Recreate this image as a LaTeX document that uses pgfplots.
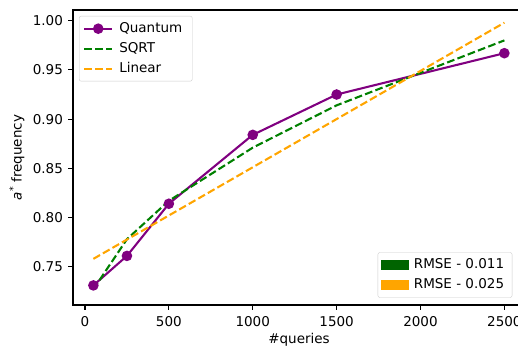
\documentclass[border=0pt]{standalone}
\usepackage{pgfplots}
\pgfplotsset{compat=1.18}
\usepackage{fontspec}
\setmainfont{DejaVu Sans}
\definecolor{qpurple}{HTML}{800080}
\definecolor{sgreen}{HTML}{008000}
\definecolor{dgreen}{HTML}{006400}
\definecolor{lorange}{HTML}{FFA500}
\definecolor{legframe}{HTML}{CCCCCC}
\newcommand{\fs}{\fontsize{13.5}{16}\selectfont}
\begin{document}
\begin{tikzpicture}[x=1pt,y=1pt]
\clip (0,0) rectangle (518,348);
\begin{axis}[
  at={(73pt,43pt)}, anchor=south west,
  scale only axis, width=452pt, height=295pt,
  xmin=-71.5, xmax=2623, ymin=0.7111, ymax=1.0109,
  /pgf/number format/assume math mode=true,
  /pgf/number format/set thousands separator={},
  font=\fs,
  axis line style={line width=1.1pt, black},
  xtick={0,500,1000,1500,2000,2500},
  ytick={0.75,0.80,0.85,0.90,0.95,1.00},
  xtick pos=lower, ytick pos=left,
  tick align=outside, major tick length=4.9pt,
  tick style={line width=1.1pt, black},
  xticklabel style={inner sep=0pt, anchor=north, yshift=-6.5pt, font=\fs},
  yticklabel style={inner sep=0pt, anchor=east, xshift=-5pt, font=\fs,
    /pgf/number format/.cd, fixed, fixed zerofill, precision=2},
  scaled y ticks=false, scaled x ticks=false,
  every axis x label/.style={at={(axis description cs:0.5,0)}, anchor=center, yshift=-35pt},
  every axis y label/.style={at={(axis description cs:0,0.5)}, anchor=center, xshift=-56pt, rotate=90},
  xlabel={\#queries},
  ylabel={\textit{a}\textsuperscript{*} frequency},
  legend image code/.code={\draw[sharp corners, mark repeat=2,mark phase=2,#1] plot coordinates {(0pt,0pt) (14pt,0pt) (28pt,0pt)};},
  legend cell align=left,
  legend style={at={(axis description cs:0,1)}, anchor=north west, xshift=6pt, yshift=-6pt,
    draw=legframe, rounded corners=2pt, fill=white, font=\fs,
    inner xsep=4pt, inner ysep=2.5pt, row sep=0pt,
    nodes={inner xsep=6pt, inner ysep=3.5pt, text height=10pt, text depth=3pt}},
]
\addplot[qpurple, line width=2.08pt, mark=*, mark size=4.2pt, mark options={solid, fill=qpurple, draw=qpurple}]
  coordinates {(50,0.731) (250,0.761) (500,0.814) (1000,0.884) (1500,0.925) (2500,0.967)};
\addlegendentry{Quantum}
\addplot[sgreen, line width=2.08pt, dash pattern=on 7.7pt off 3.3pt]
  coordinates {(50,0.727) (250,0.778) (500,0.817) (1000,0.871) (1500,0.914) (2500,0.980)};
\addlegendentry{SQRT}
\addplot[lorange, line width=2.08pt, dash pattern=on 7.7pt off 3.3pt]
  coordinates {(50,0.758) (2500,0.998)};
\addlegendentry{Linear}
\end{axis}
\begin{axis}[
  at={(73pt,43pt)}, anchor=south west,
  scale only axis, width=452pt, height=295pt,
  xmin=-71.5, xmax=2623, ymin=0.7111, ymax=1.0109,
  hide axis,
  legend image code/.code={\fill[sharp corners, #1] (0pt,-5pt) rectangle (28pt,5pt);},
  legend cell align=left,
  legend style={at={(axis description cs:1,0)}, anchor=south east, xshift=-12.7pt, yshift=7.3pt,
    draw=legframe, rounded corners=2pt, fill=white, font=\fs,
    inner xsep=3pt, inner ysep=2.5pt, row sep=0pt,
    nodes={inner xsep=5pt, inner ysep=3.5pt, text height=10pt, text depth=3pt}},
]
\addlegendimage{fill=dgreen, draw=none}
\addlegendentry{RMSE - 0.011}
\addlegendimage{fill=lorange, draw=none}
\addlegendentry{RMSE - 0.025}
\end{axis}
\end{tikzpicture}
\end{document}
